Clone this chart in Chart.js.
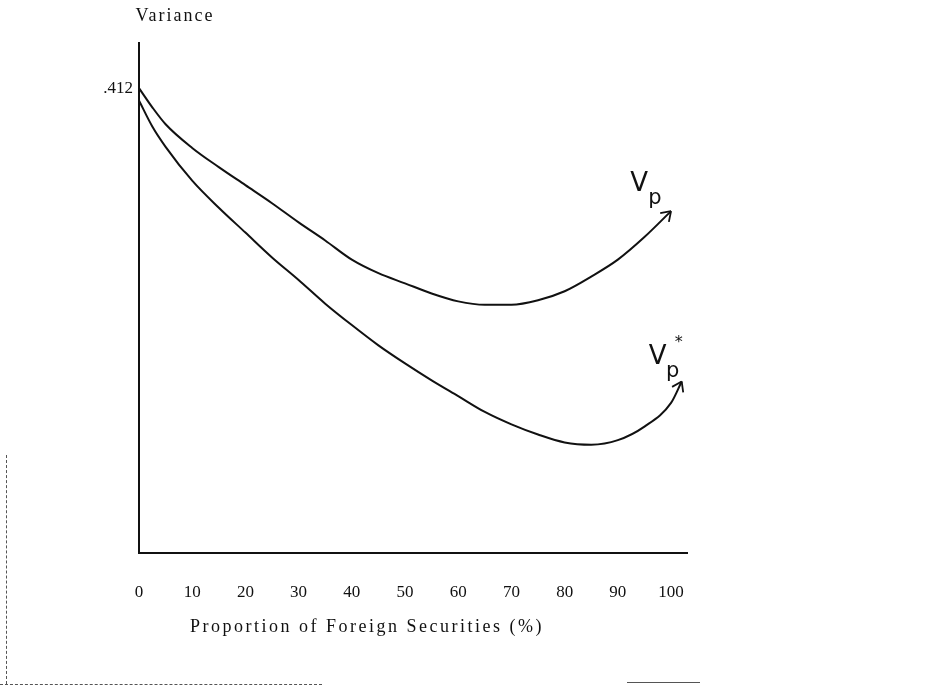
<!DOCTYPE html>
<html>
<head>
<meta charset="utf-8">
<script src="https://cdn.jsdelivr.net/npm/chart.js@4"></script>
<style>
  body { margin: 0; background: #fff; }
  #wrap { position: relative; width: 945px; height: 697px; }
  .scan { position: absolute; border-color: #555; border-style: dashed; border-width: 0; }
</style>
</head>
<body>
<div id="wrap">
  <canvas id="chart"></canvas>
  <div class="scan" style="left:6px; top:455px; height:229px; border-left-width:1px;"></div>
  <div class="scan" style="left:0; top:684px; width:322px; border-top-width:1px;"></div>
  <div class="scan" style="left:627px; top:682px; width:73px; border-top-width:1px; border-style:solid;"></div>
</div>
<script>
// ==== Data ====
const shareX = [0, 2.5, 5, 10, 15, 20, 25, 30, 35, 40, 45, 50, 55, 60, 65, 70, 75, 80, 85, 90, 95, 100];
const vpValues = [0.412, 0.395, 0.380, 0.359, 0.342, 0.326, 0.310, 0.293, 0.277, 0.260, 0.248,
  0.239, 0.230, 0.223, 0.220, 0.220, 0.224, 0.232, 0.245, 0.260, 0.280, 0.303];
const vpStarX = [0, 2.5, 5, 10, 15, 20, 25, 30, 35, 40, 45, 50, 55, 60, 65, 70, 75, 80, 85, 90, 95, 100, 102];
const vpStarValues = [0.401, 0.378, 0.360, 0.330, 0.306, 0.284, 0.262, 0.242, 0.221, 0.202, 0.184,
  0.168, 0.153, 0.139, 0.125, 0.114, 0.105, 0.098, 0.096, 0.100, 0.112, 0.133, 0.152];
const xTicks = [0, 10, 20, 30, 40, 50, 60, 70, 80, 90, 100];
const yTicks = [0.412];
const seriesLabels = ["Vp", "Vp*"];

const ink = "#111";
const serif = "'Liberation Serif', 'DejaVu Serif', serif";

const toPoints = (xs, ys) => xs.map((x, i) => ({ x, y: ys[i] }));

// ==== Arrowheads + handwritten labels + axis titles ====
const annotate = {
  id: "annotate",
  afterDatasetsDraw(chart) {
    const ctx = chart.ctx;
    const labelOffsets = [
      { v: [-32, -27], p: [-16, -13], star: null },
      { v: [-24, -24], p: [-9, -10], star: [-3, -39] }
    ];
    chart.data.datasets.forEach((ds, i) => {
      const pts = chart.getDatasetMeta(i).data;
      const tip = pts[pts.length - 1];
      const prev = pts[pts.length - 2];
      const ang = Math.atan2(tip.y - prev.y, tip.x - prev.x);
      ctx.save();
      ctx.strokeStyle = ink;
      ctx.lineWidth = 1.8;
      ctx.beginPath();
      [0.6, -0.6].forEach(d => {
        ctx.moveTo(tip.x, tip.y);
        ctx.lineTo(tip.x - 11 * Math.cos(ang + d), tip.y - 11 * Math.sin(ang + d));
      });
      ctx.stroke();

      const off = labelOffsets[i];
      ctx.fillStyle = ink;
      ctx.textAlign = "center";
      ctx.textBaseline = "middle";
      ctx.font = "26px 'DejaVu Sans'";
      ctx.fillText("V", tip.x + off.v[0], tip.y + off.v[1]);
      ctx.font = "21px 'DejaVu Sans'";
      ctx.fillText("p", tip.x + off.p[0], tip.y + off.p[1]);
      if (off.star) {
        ctx.font = "16px 'DejaVu Sans'";
        ctx.fillText("*", tip.x + off.star[0], tip.y + off.star[1]);
      }
      ctx.restore();
    });

    ctx.save();
    ctx.fillStyle = ink;
    ctx.textAlign = "center";
    ctx.textBaseline = "middle";
    ctx.font = "18px " + serif;
    ctx.letterSpacing = "2px";
    ctx.fillText("Variance", 175, 16);
    ctx.letterSpacing = "2.5px";
    ctx.fillText("Proportion of Foreign Securities (%)", 367, 627);
    ctx.restore();
  }
};

// ==== Chart ====
new Chart(document.getElementById("chart"), {
  type: "line",
  data: {
    datasets: [
      { label: seriesLabels[0], data: toPoints(shareX, vpValues) },
      { label: seriesLabels[1], data: toPoints(vpStarX, vpStarValues) }
    ]
  },
  options: {
    responsive: true,
    maintainAspectRatio: false,
    animation: false,
    layout: { padding: { top: 43, right: 258, left: 0, bottom: 0 } },
    elements: {
      line: { borderColor: ink, borderWidth: 2, cubicInterpolationMode: "monotone", fill: false },
      point: { radius: 0 }
    },
    plugins: { legend: { display: false }, tooltip: { enabled: false } },
    scales: {
      x: {
        type: "linear",
        min: 0,
        max: 103,
        afterBuildTicks: s => { s.ticks = xTicks.map(value => ({ value })); },
        afterFit: s => { s.height = 144; },
        ticks: { padding: 29, color: ink, font: { family: serif, size: 17 }, maxRotation: 0 },
        grid: { display: false, drawTicks: false },
        border: { color: ink, width: 2 }
      },
      y: {
        min: 0,
        max: 0.452,
        afterBuildTicks: s => { s.ticks = yTicks.map(value => ({ value })); },
        afterFit: s => { s.width = 139; },
        ticks: {
          padding: 6,
          color: ink,
          font: { family: serif, size: 17 },
          callback: v => String(v).replace(/^0/, "")
        },
        grid: { display: false, drawTicks: false },
        border: { color: ink, width: 2 }
      }
    }
  },
  plugins: [annotate]
});
</script>
</body>
</html>
